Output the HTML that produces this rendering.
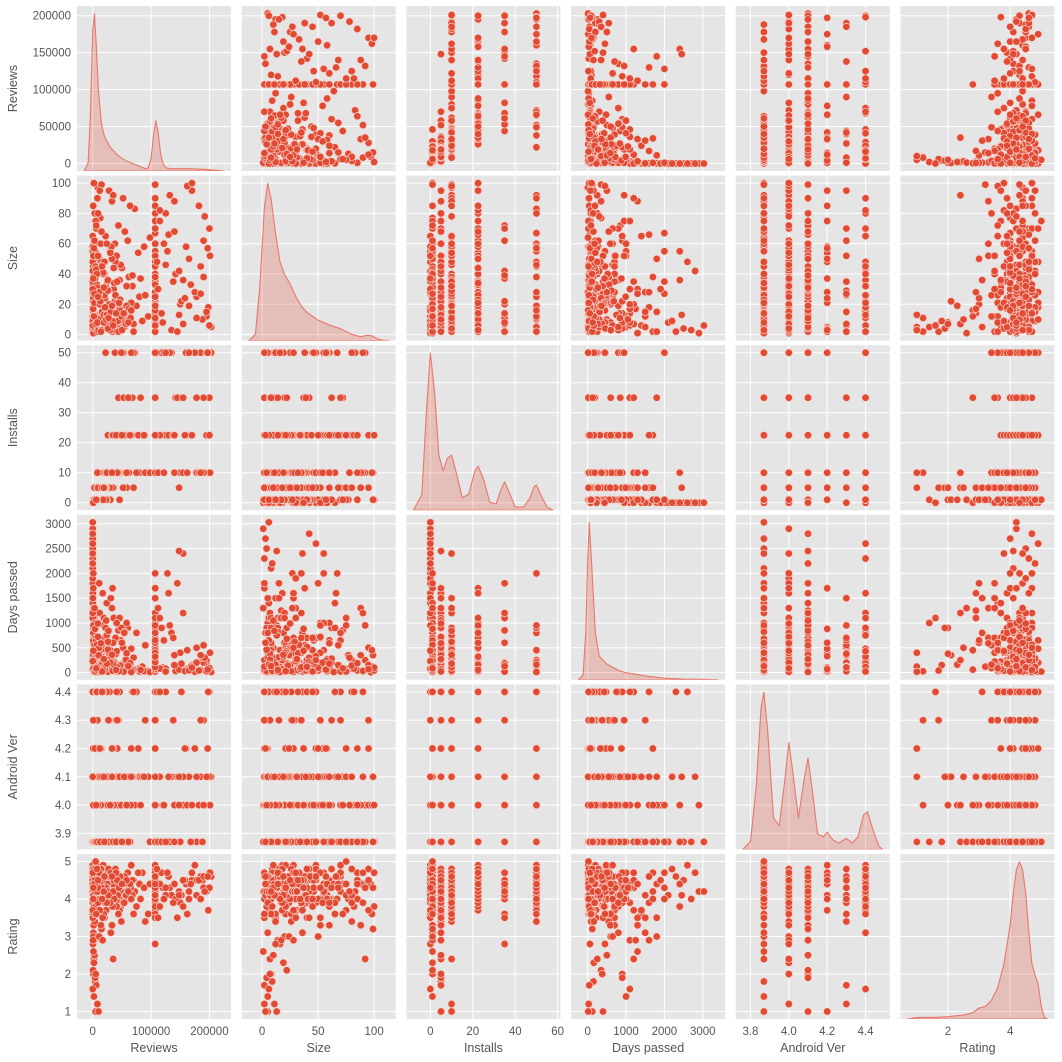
<!DOCTYPE html>
<html><head><meta charset="utf-8">
<style>
html,body{margin:0;padding:0;background:#fff;}
svg{display:block;font-family:"Liberation Sans","DejaVu Sans",sans-serif;}
</style></head>
<body>
<svg id="chart" width="1062" height="1062" viewBox="0 0 1062 1062" xmlns="http://www.w3.org/2000/svg"></svg>
<script>
// ---------- data (one entry per app) ----------
const reviewsK = [
0,0.1,0.5,1,2,0,3,0.2,5,8, 1,0,0.4,2,6,9,0,1.5,0.3,4, 7,0,2.5,0.8,10,0,3,0.1,6,1, 0,0.6,9,2,0,5,1.2,0,7,0.3, 4,0,2,8,0.9,0,3.5,1,0,6, 0.2,10,0,2,5,0.7,0,8,1,3,
12,25,40,60,18,33,80,15,50,22, 70,11,45,28,95,36,14,55,20,65, 30,85,17,42,13,75,26,58,38,90, 16,48,24,68,35,12,52,78,21,44, 62,19,88,31,27,72,46,14,56,39, 23,98,34,66,15,49,82,29,41,19,
107,107,107,107,107,107,107,107,107,107, 107,107,107,107,107,107,107,107,107,107, 107,107,107,107,107,107,107,107,107,107,
120,185,150,200,135,170,112,160,195,142, 178,125,203,155,190,118,165,140,198,130, 148,188,115,175,162,200,128,152,182,138, 195,122,168,145,110,192,158,132,178,201, 140,165,190,115,155,125,185,170,148,197,
2,15,30,5,45,8,22,60,1,35, 12,50,4,27,70,18,3,40,9,55, 25,0,38,14,65,6,48,20,107,32, 7,43,17,58,1,29,11,52,24,36, 62,3,19,46,10,33,107,26,5,41, 16,54,8,31,68,13,44,2,23,37, 28,6,49,15,39,57,4,21,64,11, 34,9,47,18,26,0,53,14,42,107, 20,66,3,35,12,58,27,7,45,30, 1,40,24,9,61,16,33,50,6,19];
const size = [
3,12,45,8,25,2,60,15,5,90, 20,1,33,7,70,11,4,52,18,9, 40,6,14,85,3,27,10,65,2,36, 8,22,97,5,48,13,1,30,75,16, 4,55,19,2,38,9,80,24,6,12, 28,3,42,100,7,17,58,11,35,21,
10,35,5,62,18,88,25,3,44,14, 7,50,22,95,12,30,2,68,40,16, 55,9,28,4,77,19,36,11,60,26, 15,46,6,32,92,20,8,54,24,72, 38,13,58,5,29,83,17,42,10,48, 31,64,2,21,99,8,37,15,52,26,
5,22,48,90,12,35,67,3,28,55, 80,15,40,8,99,25,60,18,45,2, 33,70,10,52,20,85,6,38,75,14,
8,45,20,70,3,95,30,58,12,40, 25,80,5,36,62,14,50,88,18,66, 42,10,75,28,98,6,55,22,85,35, 15,60,33,2,48,78,24,92,11,52, 68,19,38,82,7,46,27,100,13,57,
12,30,5,45,20,8,65,15,38,3, 25,10,55,18,2,40,28,7,80,14, 6,35,22,48,11,70,4,26,16,58, 33,9,42,19,52,3,27,90,13,44, 17,62,8,36,24,50,11,29,75,21, 46,5,31,15,39,22,2,57,10,34, 20,43,12,68,26,7,37,18,85,28, 9,52,23,41,4,30,14,60,35,19, 48,16,27,6,95,32,11,40,21,54, 37,14,60,25,8,45,19,3,72,31];
const installs = [
0,0,1,1,5,0,1,0,5,10, 1,0,1,5,5,10,0,1,0,5, 5,0,1,1,10,0,5,0,5,1, 0,1,10,1,0,5,1,0,5,0, 5,0,1,10,1,0,5,1,0,5, 0,10,0,1,5,1,0,10,1,5,
1,5,10,22.5,1,5,10,1,22.5,50, 5,1,10,22.5,10,5,1,22.5,10,50, 1,22.5,5,10,1,10,22.5,5,50,10, 5,10,1,22.5,10,1,5,22.5,10,35, 10,1,22.5,5,10,50,1,5,22.5,10, 1,10,5,22.5,1,10,35,5,22.5,10,
10,22.5,50,10,35,22.5,50,10,22.5,10, 50,10,22.5,35,10,50,22.5,10,50,22.5, 10,22.5,50,10,35,22.5,10,50,22.5,10,
22.5,50,10,35,50,22.5,10,50,22.5,35, 10,22.5,50,10,35,50,22.5,10,50,22.5, 35,10,22.5,50,10,22.5,50,35,10,22.5, 50,10,22.5,35,50,10,22.5,50,35,10, 22.5,50,10,22.5,35,50,10,22.5,5,50,
1,5,10,1,22.5,5,10,22.5,0,10, 5,22.5,1,10,50,5,1,10,5,22.5, 10,0,22.5,5,35,1,10,5,22.5,10, 1,10,5,22.5,0,10,5,50,10,22.5, 22.5,1,5,10,5,22.5,50,10,1,10, 5,22.5,1,10,35,5,10,1,5,22.5, 10,1,50,5,22.5,10,1,5,22.5,5, 10,5,22.5,1,10,0,35,5,10,22.5, 5,50,1,22.5,5,10,10,1,22.5,10, 0,22.5,10,5,35,5,10,22.5,1,5];
const daysPassed = [
2700,1500,300,900,50,2300,100,1800,400,20, 600,2900,200,1200,80,30,2500,700,1600,150, 250,3030,1100,60,10,2000,500,1400,40,800, 2100,350,5,1000,2600,120,1300,1900,70,450, 900,2400,160,25,1700,2200,90,650,1100,220, 1500,15,2800,40,380,1250,60,100,2000,550,
100,400,40,900,200,1300,20,600,150,70, 300,1800,80,500,30,1100,250,60,700,10, 450,120,1600,50,350,800,15,1000,200,550, 90,650,1400,35,250,1200,500,75,180,850, 140,950,25,1500,400,60,1100,300,45,700, 220,10,1700,480,120,900,55,320,1000,160,
300,900,150,1200,60,500,2000,40,700,100, 250,1500,80,600,350,30,1000,200,450,1700, 120,800,20,400,1100,180,650,70,950,280,
100,50,400,20,800,150,1300,60,250,30, 500,80,10,2400,200,900,40,350,120,1600, 60,300,1100,15,450,90,2000,180,40,700, 25,650,120,1800,70,300,30,950,200,400, 150,45,550,80,1200,20,350,100,2450,60,
50,300,120,700,20,450,900,200,80,600, 150,30,1000,250,60,520,10,380,140,820, 90,1200,40,330,180,650,25,480,110,270, 560,15,220,70,950,130,400,35,750,190, 60,280,1100,45,350,100,210,620,20,430, 170,800,55,310,40,680,120,240,1050,75, 400,95,160,550,30,260,880,65,190,500, 35,720,140,85,460,230,18,590,105,320, 250,12,1300,160,70,390,840,115,28,200, 440,55,180,990,130,22,360,600,85,270];
const androidVer = [
3.87,3.87,4.0,4.1,3.87,4.4,4.0,3.87,4.2,4.1, 3.87,4.0,4.1,3.87,4.3,4.0,3.87,4.1,4.4,3.87, 4.0,3.87,4.1,4.2,3.87,4.0,4.1,3.87,4.3,4.4, 3.87,4.1,4.0,3.87,4.4,4.1,3.87,4.0,4.2,3.87, 4.1,3.87,4.0,4.3,3.87,4.1,4.0,3.87,4.4,4.0, 3.87,4.2,4.1,3.87,4.0,4.1,3.87,4.4,4.0,3.87,
4.0,3.87,4.1,4.0,4.4,3.87,4.1,4.2,4.0,3.87, 4.1,4.0,3.87,4.3,4.1,4.0,4.4,3.87,4.1,4.0, 3.87,4.1,4.0,4.2,3.87,4.4,4.1,4.0,3.87,4.3, 4.0,3.87,4.1,4.4,4.0,4.1,3.87,4.2,4.0,4.1, 3.87,4.0,4.1,3.87,4.3,4.0,4.4,4.1,3.87,4.0, 4.1,3.87,4.0,4.2,4.1,3.87,4.0,4.4,4.1,3.87,
4.0,4.1,3.87,4.4,4.0,4.1,3.87,4.2,4.0,4.1, 3.87,4.3,4.1,4.0,3.87,4.4,4.1,4.0,3.87,4.2, 4.1,4.0,3.87,4.1,4.4,4.0,4.3,3.87,4.1,4.0,
4.0,4.1,3.87,4.4,4.1,4.0,3.87,4.2,4.1,4.0, 3.87,4.4,4.1,4.0,4.3,3.87,4.1,4.0,4.4,4.1, 4.0,3.87,4.1,4.2,4.0,4.1,3.87,4.4,4.0,4.3, 4.1,4.0,3.87,4.1,4.4,4.0,4.2,3.87,4.1,4.0, 3.87,4.1,4.0,4.4,4.1,3.87,4.3,4.0,4.1,4.2,
3.87,4.0,4.1,3.87,4.0,4.1,4.4,3.87,4.0,4.2, 4.1,3.87,4.0,4.1,4.4,3.87,4.0,4.3,4.1,3.87, 4.0,4.1,3.87,4.2,4.0,3.87,4.1,4.4,4.0,4.1, 3.87,4.0,4.1,3.87,4.3,4.0,4.1,3.87,4.4,4.0, 4.1,3.87,4.0,4.1,3.87,4.2,4.0,4.1,3.87,4.4, 4.0,4.1,3.87,4.0,4.1,3.87,4.3,4.0,4.1,3.87, 3.87,4.4,4.0,4.1,3.87,4.0,4.2,4.1,3.87,4.0, 4.1,4.0,3.87,4.4,4.0,4.1,3.87,4.0,4.3,4.1, 3.87,4.1,4.0,3.87,4.2,4.0,4.1,4.4,3.87,4.0, 4.0,3.87,4.1,4.0,3.87,4.4,4.1,3.87,4.0,4.1];
const rating = [
4.0,3.5,4.2,2.0,4.5,4.6,3.8,4.4,1.0,4.4, 3.0,4.2,4.0,2.4,4.6,1.2,4.5,3.3,3.9,1.8, 3.9,4.2,2.9,4.7,1.0,4.3,2.5,3.6,1.7,3.1, 4.1,2.1,4.4,1.4,4.9,1.0,2.6,4.5,3.7,2.8, 1.9,4.4,2.3,1.2,4.0,4.8,3.4,3.0,1.6,4.2, 3.5,1.0,4.7,3.8,2.0,2.9,4.1,4.3,4.3,3.6,
4.3,3.8,4.6,4.0,4.9,3.3,4.4,4.1,3.9,4.7, 4.5,3.0,4.2,4.8,3.6,4.4,4.0,4.6,3.5,4.3, 4.1,4.7,2.9,4.4,4.0,3.8,4.6,4.2,4.5,3.4, 4.8,4.2,3.7,4.5,2.4,4.3,4.0,4.7,3.9,4.4, 4.0,4.6,4.3,3.1,4.5,4.2,3.9,4.8,4.1,4.6, 3.7,4.4,4.2,4.9,3.2,4.5,4.0,4.3,4.7,3.6,
4.2,4.5,3.9,4.7,2.8,4.4,4.0,4.6,3.7,4.3, 4.8,4.1,4.5,3.6,4.3,4.6,4.0,4.4,3.8,4.7, 4.5,4.2,4.9,3.5,4.4,4.0,4.6,4.3,4.1,4.5,
4.3,4.6,3.9,4.7,4.1,4.5,3.5,4.4,4.2,4.0, 4.5,4.1,4.6,3.8,4.3,4.7,4.0,4.4,3.7,4.6, 4.2,4.5,4.4,4.9,3.6,4.3,4.7,4.1,4.5,3.9, 4.6,4.0,4.4,3.5,4.8,4.2,4.5,4.3,4.1,4.7, 4.4,4.2,4.6,3.8,4.5,4.3,4.0,4.7,4.1,4.6,
4.3,4.0,4.6,3.8,4.5,4.2,3.9,4.7,4.1,4.4, 4.0,4.5,4.2,4.8,3.6,4.3,4.7,4.1,3.9,4.6, 4.4,3.7,4.1,4.5,4.3,4.9,3.8,4.2,4.6,4.0, 4.7,4.1,3.5,4.4,4.0,4.6,4.2,3.9,4.3,4.5, 4.1,4.8,4.3,3.7,4.6,4.0,4.4,4.2,5.0,3.8, 4.5,3.9,4.2,4.7,4.1,4.4,3.6,4.6,4.3,4.0, 4.2,4.6,3.4,4.3,4.8,4.1,4.5,3.9,4.4,4.7, 3.8,4.3,4.6,4.0,4.2,4.7,4.4,3.3,4.5,4.1, 4.6,4.0,4.4,4.2,3.7,4.5,4.1,4.8,4.3,3.9, 4.3,4.7,3.9,4.5,4.2,4.0,4.6,4.4,3.6,4.2];

// ---------- diagonal density curves ----------
const reviewsKdeX = [-15,-8,-4,0,3,6,10,15,20,30,40,50,60,70,80,90,95,100,104,108,112,116,120,125,135,150,165,180,195,210,225];
const reviewsKdeY = [0,0.05,0.35,0.9,1.0,0.8,0.5,0.3,0.22,0.15,0.11,0.08,0.06,0.045,0.03,0.015,0.02,0.08,0.22,0.32,0.25,0.12,0.05,0.02,0.015,0.015,0.015,0.012,0.01,0.005,0];
const sizeKdeX = [-12,-6,-2,2,5,8,12,16,20,25,30,35,40,50,60,70,80,88,94,98,103,108,113];
const sizeKdeY = [0,0.04,0.35,0.85,1.0,0.9,0.68,0.5,0.42,0.36,0.28,0.22,0.18,0.13,0.1,0.075,0.04,0.025,0.035,0.03,0.01,0.003,0];
const installsKdeX = [-8,-4,-2,0,2,4,6,8,10,12,15,18,21,22.5,25,28,31,33,35,37,40,44,47,49,50,52,55,58];
const installsKdeY = [0,0.1,0.6,1.0,0.75,0.35,0.25,0.33,0.35,0.25,0.08,0.1,0.25,0.28,0.2,0.05,0.04,0.12,0.18,0.12,0.02,0.02,0.08,0.15,0.16,0.1,0.02,0];
const daysKdeX = [-250,-120,-50,0,40,100,200,300,500,800,1000,1500,2000,2500,3000,3400];
const daysKdeY = [0,0.03,0.3,0.75,1.0,0.75,0.3,0.15,0.1,0.06,0.045,0.025,0.01,0.005,0.003,0];
const androidKdeX = [3.76,3.80,3.83,3.855,3.87,3.89,3.92,3.95,3.98,4.0,4.02,4.05,4.08,4.1,4.12,4.15,4.18,4.2,4.23,4.26,4.3,4.33,4.36,4.39,4.41,4.44,4.47,4.49];
const androidKdeY = [0,0.05,0.4,0.9,1.0,0.75,0.2,0.15,0.45,0.68,0.5,0.2,0.45,0.58,0.4,0.1,0.08,0.11,0.06,0.04,0.07,0.04,0.08,0.22,0.24,0.12,0.02,0];
const ratingKdeX = [0.7,1,1.5,2,2.5,2.8,3,3.2,3.4,3.6,3.8,4,4.1,4.2,4.3,4.4,4.5,4.6,4.7,4.8,4.9,5,5.1,5.2];
const ratingKdeY = [0,0.01,0.01,0.015,0.025,0.04,0.07,0.08,0.12,0.2,0.35,0.6,0.8,0.95,1.0,0.95,0.8,0.55,0.35,0.28,0.22,0.08,0.01,0];

// ---------- tick labels ----------
const reviewsYTicks = [0,50,100,150,200];
const reviewsYLabels = ["0","50000","100000","150000","200000"];
const reviewsXTicks = [0,100,200];
const reviewsXLabels = ["0","100000","200000"];
const sizeYTicks = [0,20,40,60,80,100];
const sizeXTicks = [0,50,100];
const installsYTicks = [0,10,20,30,40,50];
const installsXTicks = [0,20,40,60];
const daysYTicks = [0,500,1000,1500,2000,2500,3000];
const daysXTicks = [0,1000,2000,3000];
const androidYTicks = [3.9,4.0,4.1,4.2,4.3,4.4];
const androidXTicks = [3.8,4.0,4.2,4.4];
const ratingYTicks = [1,2,3,4,5];
const ratingXTicks = [2,4];

const NS = "http://www.w3.org/2000/svg";
const svg = document.getElementById('chart');
function mk(tag, attrs, parent){
  const e = document.createElementNS(NS, tag);
  for (const k in attrs) e.setAttribute(k, attrs[k]);
  (parent||svg).appendChild(e);
  return e;
}
function ext(a){ return [Math.min(...a), Math.max(...a)]; }
function pad(r){ const d=(r[1]-r[0])*0.05; return [r[0]-d, r[1]+d]; }

const vars = [
 {key:'reviews', label:'Reviews', data:reviewsK, kx:reviewsKdeX, ky:reviewsKdeY, yt:reviewsYTicks, yl:reviewsYLabels, xt:reviewsXTicks, xl:reviewsXLabels},
 {key:'size', label:'Size', data:size, kx:sizeKdeX, ky:sizeKdeY, yt:sizeYTicks, xt:sizeXTicks},
 {key:'installs', label:'Installs', data:installs, kx:installsKdeX, ky:installsKdeY, yt:installsYTicks, xt:installsXTicks},
 {key:'days', label:'Days passed', data:daysPassed, kx:daysKdeX, ky:daysKdeY, yt:daysYTicks, xt:daysXTicks},
 {key:'android', label:'Android Ver', data:androidVer, kx:androidKdeX, ky:androidKdeY, yt:androidYTicks, xt:androidXTicks, fmt:v=>v.toFixed(1)},
 {key:'rating', label:'Rating', data:rating, kx:ratingKdeX, ky:ratingKdeY, yt:ratingYTicks, xt:ratingXTicks}
];
vars.forEach(v=>{
  const de = ext(v.data);
  v.ylim = pad(de);
  const ke = ext(v.kx);
  v.xlim = pad([Math.min(de[0],ke[0]), Math.max(de[1],ke[1])]);
});

const L0=77, PW=154, STEPX=164.7, T0=6, PH=165, STEPY=169.6;
const defs = mk('defs',{});
function fmtTick(v,val){ return v.fmt ? v.fmt(val) : String(val); }

for (let r=0;r<6;r++){
  for (let c=0;c<6;c++){
    const vx = vars[c], vy = vars[r];
    const x0 = L0 + c*STEPX, y0 = T0 + r*STEPY;
    const sx = val => x0 + (val - vx.xlim[0])/(vx.xlim[1]-vx.xlim[0])*PW;
    const sy = val => y0 + PH - (val - vy.ylim[0])/(vy.ylim[1]-vy.ylim[0])*PH;
    const g = mk('g',{});
    
    
    const bg = mk('rect',{x:x0,y:y0,width:PW,height:PH,fill:'#e5e5e5'},g);
    
    
    const cp = mk('clipPath',{id:'cp'+r+'_'+c},defs);
    mk('rect',{x:x0,y:y0,width:PW,height:PH},cp);
    vx.xt.forEach(t=>{ const X=sx(t); if(X>=x0&&X<=x0+PW){ const ln=mk('line',{x1:X,x2:X,y1:y0,y2:y0+PH,stroke:'#fff','stroke-width':1},g);   }});
    vy.yt.forEach(t=>{ const Y=sy(t); if(Y>=y0&&Y<=y0+PH){ const ln=mk('line',{x1:x0,x2:x0+PW,y1:Y,y2:Y,stroke:'#fff','stroke-width':1},g);   }});
    const inner = mk('g',{'clip-path':'url(#cp'+r+'_'+c+')'},g);
    if (r===c){
      const maxD = Math.max(...vx.ky);
      const dy = d => y0 + PH - d/(maxD*1.05)*PH;
      let p = 'M'+sx(vx.kx[0]).toFixed(2)+','+dy(0).toFixed(2);
      vx.kx.forEach((xv,i)=>{ p += ' L'+sx(xv).toFixed(2)+','+dy(vx.ky[i]).toFixed(2); });
      p += ' L'+sx(vx.kx[vx.kx.length-1]).toFixed(2)+','+dy(0).toFixed(2)+' Z';
      const area = mk('path',{d:p,fill:'rgba(226,74,51,0.25)',stroke:'#e8776a','stroke-width':1.1,'stroke-linejoin':'round'},inner);
      
      
    } else {
      for (let i=0;i<vx.data.length;i++){
        const pt = mk('circle',{cx:sx(vx.data[i]).toFixed(2),cy:sy(vy.data[i]).toFixed(2),r:3.7,fill:'#e24a33',stroke:'#f7d3cc','stroke-width':0.7},inner);
        
        
      }
    }
    if (c===0){
      const labs = vy.yl || vy.yt.map(t=>fmtTick(vy,t));
      vy.yt.forEach((t,i)=>{
        const tx = mk('text',{x:x0-6,y:sy(t)+4,'text-anchor':'end','font-size':11.5,fill:'#555'},svg);
        tx.textContent = labs[i];
        
        
      });
      const cy = y0+PH/2;
      const yt = mk('text',{x:0,y:0,'text-anchor':'middle','font-size':12.5,fill:'#555',transform:'translate(17,'+cy+') rotate(-90)'},svg);
      yt.textContent = vy.label;
      
      
    }
    if (r===5){
      const labs = vx.xl || vx.xt.map(t=>fmtTick(vx,t));
      vx.xt.forEach((t,i)=>{
        const tx = mk('text',{x:sx(t),y:y0+PH+16,'text-anchor':'middle','font-size':11.5,fill:'#555'},svg);
        tx.textContent = labs[i];
        
        
      });
      const xt = mk('text',{x:x0+PW/2,y:y0+PH+33,'text-anchor':'middle','font-size':12.5,fill:'#555'},svg);
      xt.textContent = vx.label;
      
      
    }
  }
}
</script>
</body></html>
